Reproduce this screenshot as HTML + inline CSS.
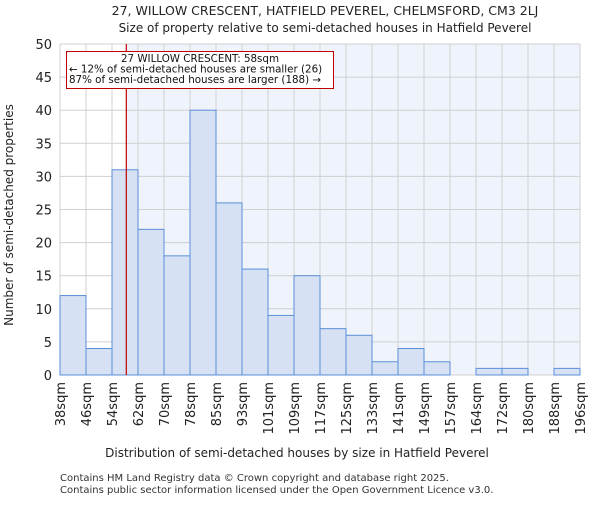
<!DOCTYPE html>
<html><head><meta charset="utf-8"><style>
body{margin:0;background:#fff}
svg{font-family:"DejaVu Sans","Liberation Sans",sans-serif}
</style></head><body>
<svg id="chart" width="600" height="500" xmlns="http://www.w3.org/2000/svg">
<text x="325" y="15" text-anchor="middle" font-size="12.5" fill="#222">27, WILLOW CRESCENT, HATFIELD PEVEREL, CHELMSFORD, CM3 2LJ</text>
<text x="325" y="32" text-anchor="middle" font-size="12" fill="#222">Size of property relative to semi-detached houses in Hatfield Peverel</text>
<g id="plot"></g>
<text x="297" y="457" text-anchor="middle" font-size="12" fill="#222">Distribution of semi-detached houses by size in Hatfield Peverel</text>
<text transform="translate(13,215) rotate(-90)" text-anchor="middle" font-size="12" fill="#222">Number of semi-detached properties</text>
<text x="60" y="481" font-size="10" fill="#333">Contains HM Land Registry data © Crown copyright and database right 2025.</text>
<text x="60" y="493" font-size="10" fill="#333">Contains public sector information licensed under the Open Government Licence v3.0.</text>
</svg>
<script>
const categories=["38sqm","46sqm","54sqm","62sqm","70sqm","78sqm","85sqm","93sqm","101sqm","109sqm","117sqm","125sqm","133sqm","141sqm","149sqm","157sqm","164sqm","172sqm","180sqm","188sqm","196sqm"];
const counts=[12,4,31,22,18,40,26,16,9,15,7,6,2,4,2,0,1,1,0,1];
const yTicks=[0,5,10,15,20,25,30,35,40,45,50];
const markerBin=2.55;
const NS="http://www.w3.org/2000/svg";
const L=60,R=580,T=44,B=375;
const bw=(R-L)/counts.length;
const x=i=>L+i*bw;
const y=v=>B-(v/50)*(B-T);
const g=document.getElementById('plot');
function mk(t,a){const e=document.createElementNS(NS,t);for(const k in a)e.setAttribute(k,a[k]);g.appendChild(e);return e;}
const mx=x(markerBin);
let e=mk('rect',{x:L,y:T,width:mx-L,height:B-T,fill:'#fff'});


e=mk('rect',{x:mx,y:T,width:R-mx,height:B-T,fill:'#eff3fb'});


for(let i=0;i<=counts.length;i++){e=mk('line',{x1:x(i),x2:x(i),y1:T,y2:B,stroke:'#d0d0d0','stroke-width':1});

}
yTicks.forEach(v=>{e=mk('line',{x1:L,x2:R,y1:y(v),y2:y(v),stroke:'#d0d0d0','stroke-width':1});


const t=mk('text',{x:L-8,y:y(v)+5,'text-anchor':'end','font-size':13,fill:'#222'});t.textContent=v;

});
counts.forEach((c,i)=>{if(c<=0)return;e=mk('rect',{x:x(i),y:y(c),width:bw,height:B-y(c),fill:'#d6e1f4',stroke:'#5b8fd8','stroke-width':1});

});
categories.forEach((c,i)=>{const t=mk('text',{transform:`translate(${x(i)+5},${B+7}) rotate(-90)`,'text-anchor':'end','font-size':13,fill:'#222'});t.textContent=c;

});
e=mk('line',{x1:mx,x2:mx,y1:T,y2:B,stroke:'#c00000','stroke-width':1.2});


e=mk('rect',{x:66.5,y:51.5,width:267,height:37,fill:'#fff',stroke:'#c00000','stroke-width':1});


[["27 WILLOW CRESCENT: 58sqm",200,'middle'],["← 12% of semi-detached houses are smaller (26)",69,'start'],["87% of semi-detached houses are larger (188) →",69,'start']].forEach((a,k)=>{const t=mk('text',{x:a[1],y:62+k*10.5,'text-anchor':a[2],'font-size':10.3,fill:'#111'});t.textContent=a[0];

});
</script>
</body></html>
